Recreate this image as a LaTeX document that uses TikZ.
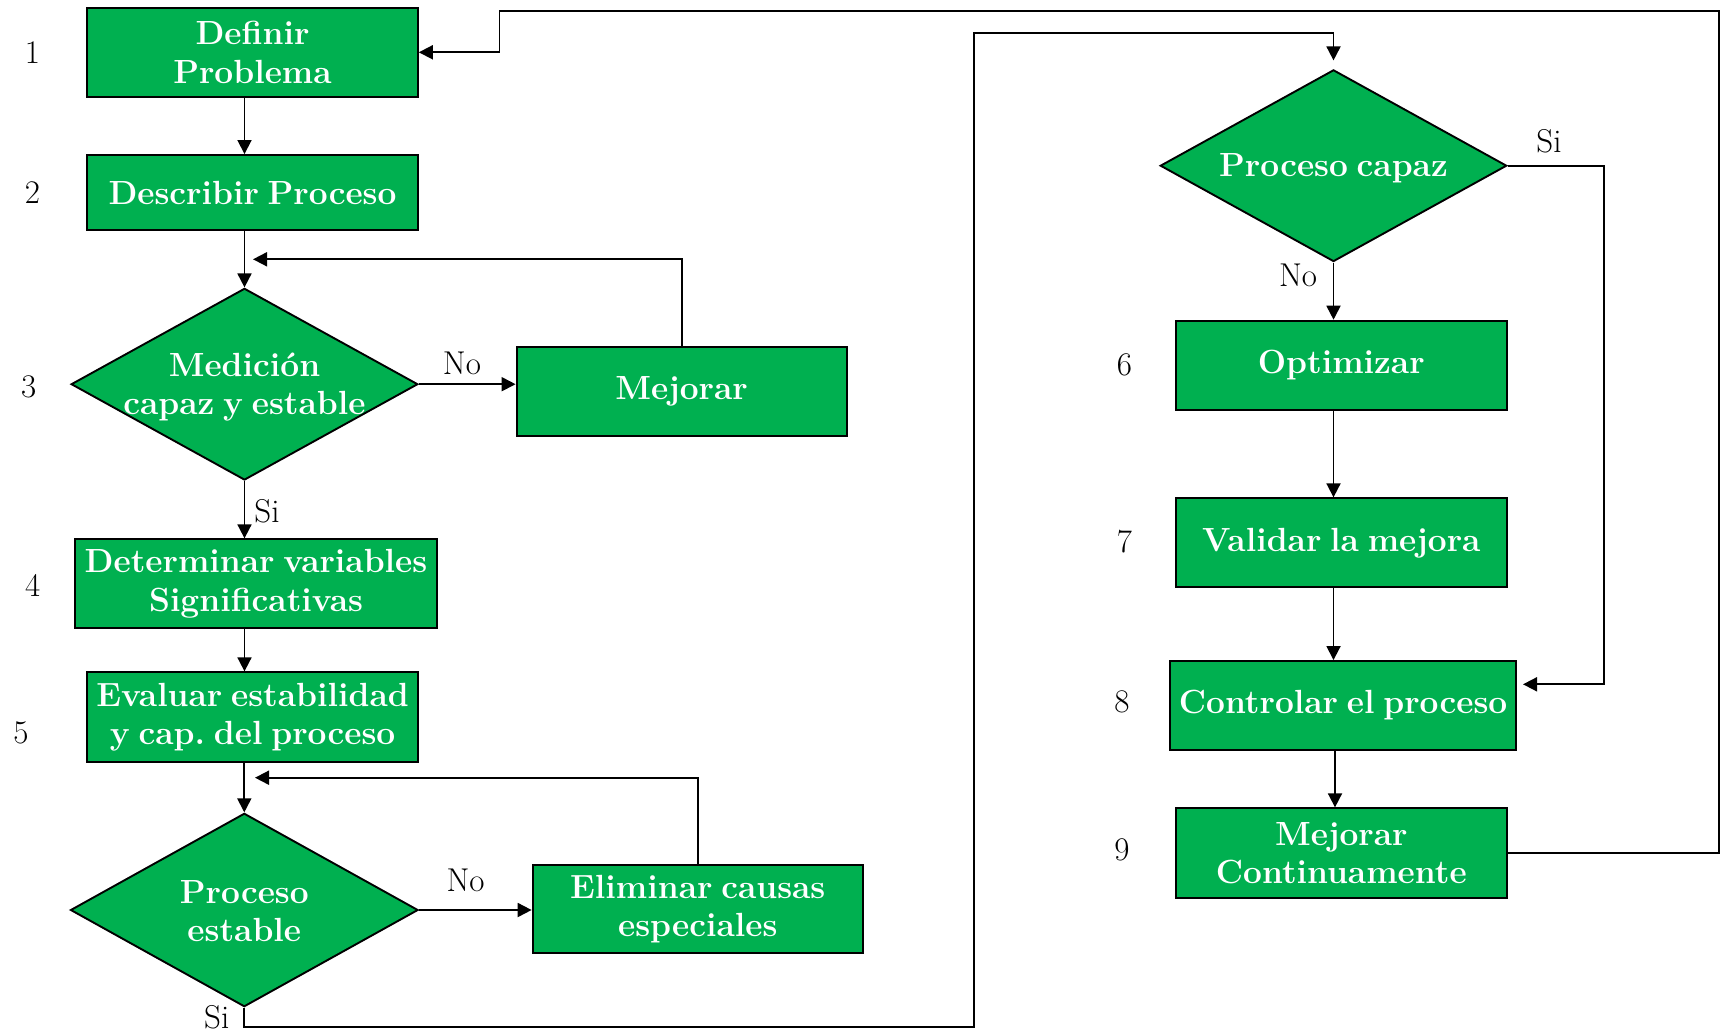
\documentclass[tikz,border=0pt]{standalone}
\usepackage{fontspec}
\setmainfont{Latin Modern Roman}[WordSpace=0.7]
\frenchspacing
\usetikzlibrary{arrows.meta,shapes.geometric,calc}
\definecolor{stepgreen}{RGB}{0,176,80}
\begin{document}
\begin{tikzpicture}[x=1pt,y=-1pt,
  txt/.style={font=\fontsize{33}{38.5}\selectfont},
  box/.style={draw=black, line width=1.9pt, fill=stepgreen, text=white,
    font=\fontsize{33.5}{38.5}\selectfont\bfseries, align=center, inner sep=0pt},
  dia/.style={diamond, draw=black, line width=1.9pt, fill=stepgreen, inner sep=0pt},
  wtext/.style={text=white, font=\fontsize{33.5}{38.5}\selectfont\bfseries, align=center, inner sep=0pt},
  num/.style={txt, inner sep=0pt},
  arr/.style={line width=1.8pt, -{Triangle[length=14pt,width=14pt]}},
]
\useasboundingbox (0,0) rectangle (1721,1033);

% left column
\node[box, minimum width=330.7pt, minimum height=89.3pt] (b1) at (252.5,52.3) {Definir\\Problema};
\node[box, minimum width=330.7pt, minimum height=75pt] (b2) at (252.5,192.5) {Describir Proceso};
\node[dia, minimum width=346.7pt, minimum height=191.7pt] (d3) at (244.5,384.2) {};
\node[wtext] (d3t) at (244.5,387) {Medición\\capaz y estable};
\node[box, minimum width=330.1pt, minimum height=88.7pt] (mej) at (681.6,391.7) {Mejorar};
\node[box, minimum width=362.8pt, minimum height=89pt] (b4) at (256,583.8) {Determinar variables\\Significativas};
\node[box, minimum width=330.4pt, minimum height=89.4pt] (b5) at (252.6,717) {Evaluar estabilidad\\y cap. del proceso};
\node[dia, minimum width=347.6pt, minimum height=193.4pt] (d5) at (244.3,910) {};
\node[wtext] (d5t) at (244.3,911) {Proceso\\estable};
\node[box, minimum width=330.4pt, minimum height=88.3pt] (elim) at (697.8,909.2) {Eliminar causas\\especiales};

% right column
\node[dia, minimum width=346.5pt, minimum height=191.7pt] (dc) at (1333.5,165.7) {};
\node[wtext] (dct) at (1333.5,168) {Proceso capaz};
\node[box, minimum width=330.6pt, minimum height=89.3pt] (opt) at (1341.3,365.3) {Optimizar};
\node[box, minimum width=330.6pt, minimum height=89pt] (val) at (1341.3,542.8) {Validar la mejora};
\node[box, minimum width=346.6pt, minimum height=89pt] (ctl) at (1343.1,705.5) {Controlar el proceso};
\node[box, minimum width=330.6pt, minimum height=89.4pt] (mc) at (1341.3,853) {Mejorar\\Continuamente};

% step numbers
\node[num] (n1) at (32.5,53) {1};
\node[num] (n2) at (32.5,193) {2};
\node[num] (n3) at (28.7,386.7) {3};
\node[num] (n4) at (32.7,585) {4};
\node[num] (n5) at (21,733) {5};
\node[num] (n6) at (1124.5,365) {6};
\node[num] (n7) at (1124.5,541.7) {7};
\node[num] (n8) at (1122,701.7) {8};
\node[num] (n9) at (1122,850) {9};

% decision labels
\node[num] (l3no) at (462,363) {No};
\node[num] (l3si) at (267,511.7) {Si};
\node[num] (l5no) at (465.6,880) {No};
\node[num] (l5si) at (216.8,1017) {Si};
\node[num] (lcsi) at (1549,141.7) {Si};
\node[num] (lcno) at (1298,275) {No};

% turning points of the routed connectors
\coordinate (m3) at (253,259.3);
\coordinate (m5) at (255,777.7);
\coordinate (r1) at (973.6,1027.3);
\coordinate (r2) at (973.6,33.3);
\coordinate (r3) at ($(dc.north)+(0,-8.5)$);
\coordinate (s1) at (1604,684.3);
\coordinate (c8in) at (1523,684.3);
\coordinate (t1) at (1719.3,11);
\coordinate (t2) at (499.4,11);

% left column flow
\draw[arr] (b1.south -| d3) -- (b2.north -| d3);
\draw[arr] (b2.south -| d3) -- (d3.north);
\draw[arr] (mej.north) |- (m3);
\draw[arr] (d3.east) -- (d3.east -| mej.west);
\draw[arr] (d3.south) -- (b4.north -| d3);
\draw[arr] (b4.south -| d3) -- (b5.north -| d3);
\draw[arr] (b5.south -| d5) -- (d5.north);
\draw[arr] (elim.north) |- (m5);
\draw[arr] (d5.east) -- (d5.east -| elim.west);
\draw[arr] (d5.south) |- (r1) -- (r2) -| (r3);

% right column flow
\draw[arr] (dc.south) -- (opt.north -| dc);
\draw[arr] (opt.south -| dc) -- (val.north -| dc);
\draw[arr] (val.south -| dc) -- (ctl.north -| dc);
\draw[arr] (ctl.south -| 1335,0) -- (mc.north -| 1335,0);
\draw[arr] (dc.east) -| (s1) -- (c8in);
\draw[arr] (mc.east) -| (t1) -- (t2) |- (b1.east);
\end{tikzpicture}
\end{document}
